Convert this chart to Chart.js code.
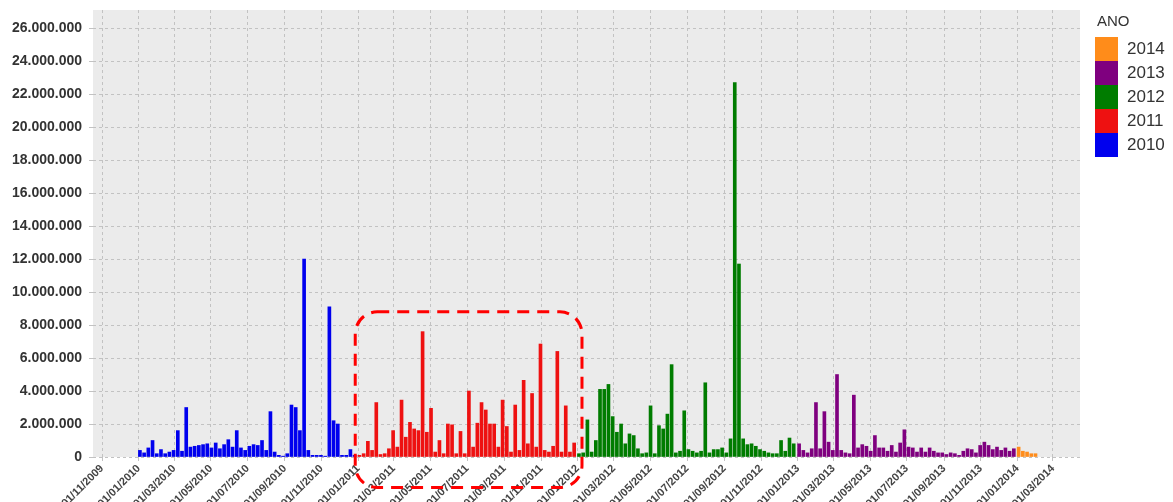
<!DOCTYPE html>
<html>
<head>
<meta charset="utf-8">
<script src="https://cdn.jsdelivr.net/npm/chart.js@4/dist/chart.umd.min.js"></script>
<style>
  body { margin: 0; background: #fff; font-family: "Liberation Sans", Arial, sans-serif; }
  #wrap { position: relative; width: 1173px; height: 502px; }
  #legend { position: absolute; left: 1095px; top: 12px; color: #333; }
  #legend .title { font-size: 15px; height: 25px; margin-left: 2px; }
  #legend .item { display: flex; align-items: center; height: 24px; }
  #legend .box { width: 23px; height: 24px; margin-right: 9px; }
  #legend .label { font-size: 17px; }
</style>
</head>
<body>
<div id="wrap">
  <canvas id="chart"></canvas>
  <div id="legend"></div>
</div>
<script>
// weekly totals (millions), one array per year
const years = ["2010", "2011", "2012", "2013", "2014"]
const yearColors = ["#0000ee", "#ee1111", "#007c00", "#7f007f", "#ff8c1a"]
const weekStarts = ["2010-01-03", "2011-01-03", "2012-01-03", "2013-01-03", "2014-01-03"]

const values2010 = [0.4, 0.25, 0.55, 1.0, 0.2, 0.45, 0.2, 0.3, 0.4, 1.6,
  0.35, 3.0, 0.6, 0.65, 0.7, 0.75, 0.8, 0.55, 0.85, 0.5,
  0.75, 1.05, 0.6, 1.6, 0.55, 0.4, 0.65, 0.75, 0.7, 1.0,
  0.4, 2.75, 0.3, 0.1, 0.05, 0.2, 3.15, 3.0, 1.6, 12.0,
  0.4, 0.1, 0.1, 0.1, 0.05, 9.1, 2.2, 2.0, 0.1, 0.1,
  0.45, 0.1]
const values2011 = [0.1, 0.2, 0.95, 0.4, 3.3, 0.15, 0.2, 0.5, 1.6, 0.6,
  3.45, 1.2, 2.1, 1.7, 1.6, 7.6, 1.5, 2.95, 0.3, 1.0,
  0.2, 2.0, 1.95, 0.2, 1.55, 0.2, 4.0, 0.6, 2.05, 3.3,
  2.85, 2.0, 2.0, 0.6, 3.45, 1.85, 0.3, 3.15, 0.4, 4.65,
  0.8, 3.85, 0.6, 6.85, 0.4, 0.3, 0.65, 6.4, 0.3, 3.1,
  0.3, 0.85]
const values2012 = [0.2, 0.25, 2.25, 0.3, 1.0, 4.1, 4.1, 4.4, 2.45, 1.5,
  2.0, 0.8, 1.4, 1.3, 0.5, 0.2, 0.25, 3.1, 0.2, 1.9,
  1.7, 2.6, 5.6, 0.25, 0.35, 2.8, 0.45, 0.35, 0.25, 0.35,
  4.5, 0.25, 0.45, 0.45, 0.55, 0.25, 1.1, 22.7, 11.7, 1.1,
  0.75, 0.8, 0.65, 0.45, 0.35, 0.25, 0.2, 0.2, 1.0, 0.35,
  1.15, 0.8]
const values2013 = [0.8, 0.4, 0.25, 0.5, 3.3, 0.5, 2.75, 0.9, 0.4, 5.0,
  0.4, 0.25, 0.2, 3.75, 0.55, 0.75, 0.65, 0.35, 1.3, 0.55,
  0.55, 0.35, 0.7, 0.3, 0.85, 1.65, 0.6, 0.55, 0.3, 0.55,
  0.3, 0.55, 0.35, 0.25, 0.25, 0.15, 0.25, 0.2, 0.1, 0.35,
  0.5, 0.45, 0.25, 0.7, 0.9, 0.7, 0.45, 0.6, 0.4, 0.55,
  0.35, 0.5]
const values2014 = [0.6, 0.35, 0.3, 0.2, 0.2]
const yearValues = [values2010, values2011, values2012, values2013, values2014]

const xTickLabels = ["01/11/2009", "01/01/2010", "01/03/2010", "01/05/2010", "01/07/2010",
  "01/09/2010", "01/11/2010", "01/01/2011", "01/03/2011", "01/05/2011", "01/07/2011",
  "01/09/2011", "01/11/2011", "01/01/2012", "01/03/2012", "01/05/2012", "01/07/2012",
  "01/09/2012", "01/11/2012", "01/01/2013", "01/03/2013", "01/05/2013", "01/07/2013",
  "01/09/2013", "01/11/2013", "01/01/2014", "01/03/2014"]
const yTicks = [0, 2e6, 4e6, 6e6, 8e6, 10e6, 12e6, 14e6, 16e6, 18e6, 20e6, 22e6, 24e6, 26e6]

// the dashed box drawn around 2011
const highlight = { from: "2010-12-27", to: "2012-01-08", low: -1.85e6, high: 8.8e6 }

const DAY = 86400000
const isoMs = s => Date.parse(s + "T00:00:00Z")
const dmyMs = s => { const [d, m, y] = s.split("/"); return Date.UTC(+y, +m - 1, +d) }
const dotted = n => String(Math.round(n)).replace(/\B(?=(\d{3})+(?!\d))/g, ".")

const datasets = years.map((year, i) => ({
  label: year,
  data: yearValues[i].map((v, w) => ({ x: isoMs(weekStarts[i]) + w * 7 * DAY, y: v * 1e6 })),
  backgroundColor: yearColors[i],
  borderWidth: 0,
  barThickness: 3,
  grouped: false
}))

const panelBg = {
  id: "panelBg",
  beforeDraw(chart) {
    const { ctx, chartArea: a } = chart
    ctx.save()
    ctx.fillStyle = "#ebebeb"
    ctx.fillRect(a.left, a.top, a.right - a.left, a.bottom - a.top)
    ctx.restore()
  }
}

const highlightBox = {
  id: "highlightBox",
  afterDraw(chart) {
    const { ctx, scales: { x, y } } = chart
    const x1 = x.getPixelForValue(isoMs(highlight.from))
    const x2 = x.getPixelForValue(isoMs(highlight.to))
    const y1 = y.getPixelForValue(highlight.high)
    const y2 = y.getPixelForValue(highlight.low)
    ctx.save()
    ctx.strokeStyle = "#ff0000"
    ctx.lineWidth = 3
    ctx.setLineDash([12, 8])
    ctx.beginPath()
    ctx.roundRect(x1, y1, x2 - x1, y2 - y1, 22)
    ctx.stroke()
    ctx.restore()
  }
}

const tickFont = { family: "'Liberation Sans', Arial, sans-serif", weight: "bold" }

new Chart(document.getElementById("chart"), {
  type: "bar",
  data: { datasets },
  options: {
    animation: false,
    responsive: true,
    maintainAspectRatio: false,
    layout: { padding: { top: 10, right: 93, left: 0, bottom: 0 } },
    plugins: { legend: { display: false }, tooltip: { enabled: false } },
    scales: {
      x: {
        type: "linear",
        min: isoMs("2009-10-17"),
        max: isoMs("2014-04-15"),
        offset: false,
        afterBuildTicks: s => { s.ticks = xTickLabels.map(l => ({ value: dmyMs(l) })) },
        afterFit: s => { s.height = 45 },
        ticks: {
          autoSkip: false,
          minRotation: 45,
          maxRotation: 45,
          padding: 1,
          color: "#444",
          font: { ...tickFont, size: 11 },
          callback: (v, i) => xTickLabels[i]
        },
        grid: { color: "#c2c2c2", offset: false, tickLength: 4 },
        border: { display: false, dash: [3, 3] }
      },
      y: {
        min: 0,
        max: 27.1e6,
        afterBuildTicks: s => { s.ticks = yTicks.map(v => ({ value: v })) },
        afterFit: s => { s.width = 93; s.paddingTop = 0 },
        ticks: {
          padding: 7,
          color: "#333",
          font: { ...tickFont, size: 14 },
          callback: v => dotted(v)
        },
        grid: { color: "#c2c2c2", tickLength: 4 },
        border: { display: false, dash: [3, 3] }
      }
    }
  },
  plugins: [panelBg, highlightBox]
})

// legend, newest year on top
const legend = document.getElementById("legend")
legend.innerHTML = '<div class="title">ANO</div>' + years.map((y, i) =>
  `<div class="item"><div class="box" style="background:${yearColors[i]}"></div><span class="label">${y}</span></div>`
).reverse().join("")
</script>
</body>
</html>
